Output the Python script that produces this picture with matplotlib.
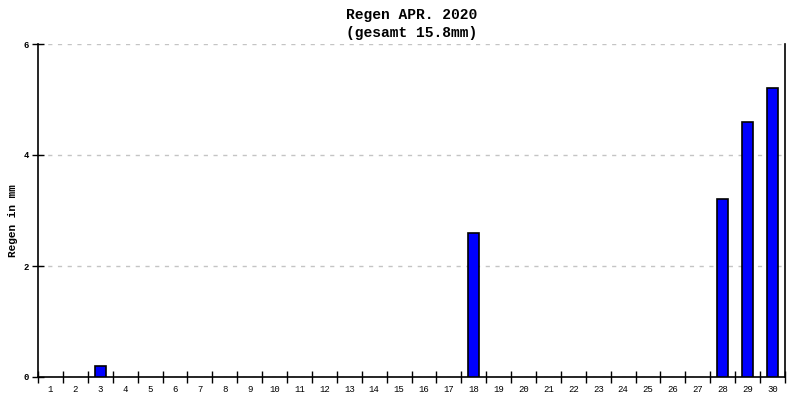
import matplotlib
matplotlib.use("Agg")
import matplotlib.pyplot as plt
from matplotlib.ticker import FixedLocator, NullFormatter

days = list(range(1, 31))
rain = [0, 0, 0.2, 0, 0, 0, 0, 0, 0, 0,
        0, 0, 0, 0, 0, 0, 0, 2.6, 0, 0,
        0, 0, 0, 0, 0, 0, 0, 3.2, 4.6, 5.2]
title = "Regen APR. 2020\n(gesamt 15.8mm)"
ylabel = "Regen in mm"
yticks = [0, 2, 4, 6]

fig = plt.figure(figsize=(8, 4), dpi=100)
ax = fig.add_axes([0.0475, 0.0575, 0.93375, 0.8325])
mono = "Liberation Mono"

for d, v in zip(days, rain):
    if v > 0:
        ax.bar(d, v, width=0.45, color="#0000ff", edgecolor="black", linewidth=1.2, zorder=3)

ax.set_xlim(0.5, 30.5)
ax.set_ylim(0, 6)
ax.set_yticks(yticks)
ax.set_yticklabels([str(t) for t in yticks], fontfamily=mono, fontsize=6.5, fontweight="bold")
ax.xaxis.set_major_locator(FixedLocator([d + 0.5 for d in range(0, 31)]))
ax.xaxis.set_major_formatter(NullFormatter())
ax.set_xticks(days, minor=True)
ax.set_xticklabels([str(d) for d in days], minor=True, fontfamily=mono, fontsize=6.5)
ax.tick_params(axis="x", which="minor", length=0, pad=6)
ax.tick_params(axis="x", which="major", direction="inout", length=8, width=1)
ax.tick_params(axis="y", which="major", direction="inout", length=9, width=1, pad=2)

ax.grid(axis="y", color="#c4c4c4", linestyle=(0, (3, 4)), linewidth=1, zorder=0)
ax.spines["top"].set_visible(False)
for s in ["left", "bottom", "right"]:
    ax.spines[s].set_linewidth(1.2)
    ax.spines[s].set_color("black")

ax.set_title(title, fontfamily=mono, fontweight="bold", fontsize=10.5, pad=5, linespacing=1.4)
ax.set_ylabel(ylabel, fontfamily=mono, fontweight="bold", fontsize=8)
ax.yaxis.set_label_coords(-0.027, 0.47)

fig.savefig("out.png", dpi=100)
